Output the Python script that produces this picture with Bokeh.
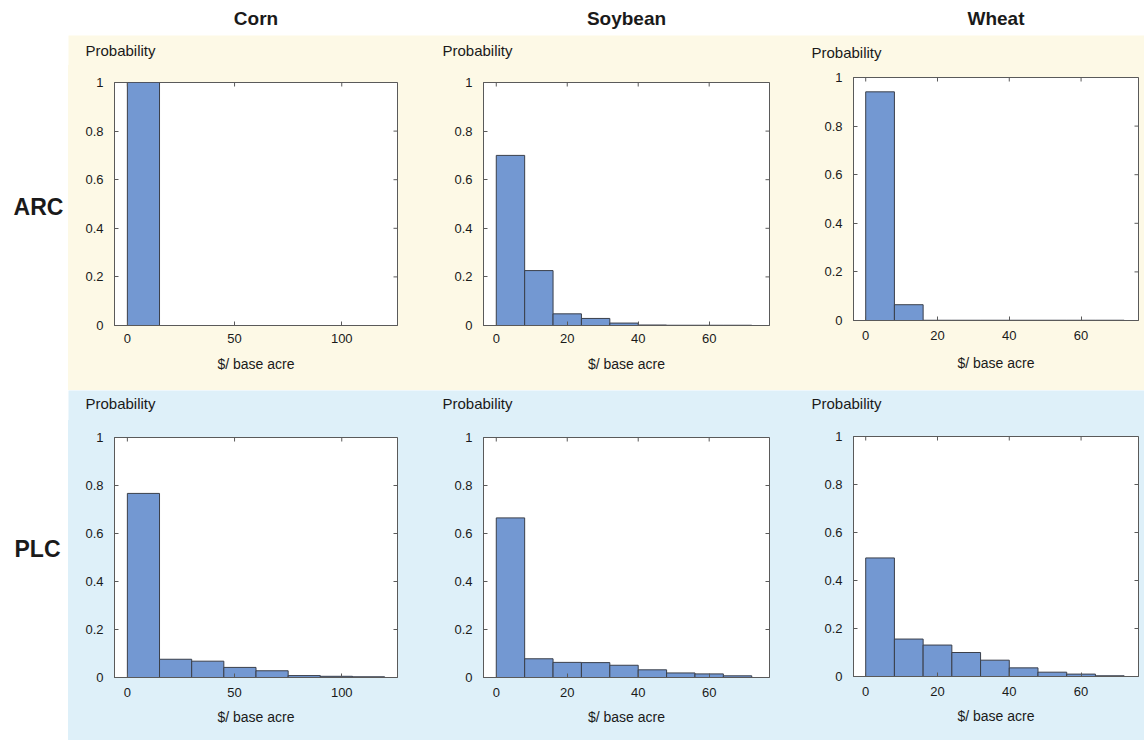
from bokeh.plotting import figure
from bokeh.layouts import row, column
from bokeh.models import Range1d, FixedTicker, ColumnDataSource
from bokeh.core.properties import value
from bokeh.embed import file_html
from bokeh.resources import INLINE

# ---------------- data ----------------
crops = ["Corn", "Soybean", "Wheat"]
programs = ["ARC", "PLC"]

corn_bin_edges = [0, 15, 30, 45, 60, 75, 90, 105, 120]
soy_bin_edges = [0, 8, 16, 24, 32, 40, 48, 56, 64, 72]
wheat_bin_edges = [0, 8, 16, 24, 32, 40, 48, 56, 64, 72]

corn_arc = [1.0, 0, 0, 0, 0, 0, 0, 0]
corn_plc = [0.767, 0.076, 0.068, 0.042, 0.028, 0.008, 0.005, 0.003]
soy_arc = [0.700, 0.226, 0.048, 0.029, 0.010, 0.002, 0.001, 0.001, 0.001]
soy_plc = [0.665, 0.078, 0.063, 0.062, 0.051, 0.032, 0.019, 0.015, 0.007]
wheat_arc = [0.941, 0.065, 0.001, 0.001, 0.001, 0.001, 0.001, 0.001, 0.001]
wheat_plc = [0.494, 0.156, 0.131, 0.100, 0.068, 0.036, 0.018, 0.010, 0.003]

corn_x_ticks = [0, 50, 100]
soy_x_ticks = [0, 20, 40, 60]
wheat_x_ticks = [0, 20, 40, 60]
y_ticks = [0, 0.2, 0.4, 0.6, 0.8, 1.0]
y_tick_labels = ["0", "0.2", "0.4", "0.6", "0.8", "1"]

y_title = "Probability"
x_title = "$/ base acre"

# ---------------- style ----------------
FONT = "Liberation Sans"
BAR = "#7398d2"
BAR_LINE = "#3a3f4a"
FRAME = "#5a5a5a"
YELLOW = "#fdf9e6"
BLUE = "#def0f9"
TXT = "#1a1a1a"


def panel(edges, probs, xr, xticks, w, h, bl, br, bt, bb, bg, xstand):
    p = figure(width=w, height=h, x_range=Range1d(*xr), y_range=Range1d(0, 1),
               output_backend="svg", toolbar_location=None,
               min_border_left=bl, min_border_right=br,
               min_border_top=bt, min_border_bottom=bb,
               border_fill_color=bg, background_fill_color="white",
               outline_line_color=FRAME, outline_line_width=1)
    src = ColumnDataSource(dict(left=edges[:-1], right=edges[1:], top=probs))
    p.quad(left="left", right="right", bottom=0, top="top", source=src,
           fill_color=BAR, line_color=BAR_LINE, line_width=1)
    p.grid.visible = False

    # inward tick marks on the top and right edges of the box
    p.scatter(x=xticks, y=[1] * len(xticks), marker="dash",
              angle=1.5708, size=8, line_color=FRAME, line_width=1)
    p.scatter(x=[xr[1]] * len(y_ticks), y=y_ticks, marker="dash",
              size=8, line_color=FRAME, line_width=1)

    xa = p.below[0]
    ya = p.left[0]
    xa.ticker = FixedTicker(ticks=xticks)
    ya.ticker = FixedTicker(ticks=y_ticks)
    ya.major_label_overrides = {t: l for t, l in zip(y_ticks, y_tick_labels)}
    for ax in (xa, ya):
        ax.axis_line_color = FRAME
        ax.major_tick_line_color = FRAME
        ax.major_tick_in = 4
        ax.major_tick_out = 0
        ax.minor_tick_line_color = None
        ax.major_label_text_font = FONT
        ax.major_label_text_font_size = "13px"
        ax.major_label_text_color = TXT
    ya.major_label_standoff = 11
    xa.major_label_standoff = xstand[0]
    xa.axis_label = x_title
    xa.axis_label_text_font = FONT
    xa.axis_label_text_font_size = "14px"
    xa.axis_label_text_font_style = "normal"
    xa.axis_label_text_color = TXT
    xa.axis_label_standoff = xstand[1]
    return p


def text_fig(texts, w, h, xs, ys, bg="white", size="23px", style="bold",
             align="center"):
    p = figure(width=w, height=h, x_range=Range1d(0, w), y_range=Range1d(0, h),
               output_backend="svg", toolbar_location=None,
               x_axis_type=None, y_axis_type=None, min_border=0,
               outline_line_color=None, border_fill_color=bg,
               background_fill_color=bg)
    p.grid.visible = False
    p.text(x=xs, y=ys, text=texts, text_font=value(FONT), text_font_style=style,
           text_font_size=size, text_align=align, text_baseline="middle",
           text_color=TXT)
    return p


# layout geometry (px)
LAB_W = 68
W = [352, 360, 364]
BL = [46, 63, 73]
BR = [23, 11, 6]
HEAD_H = 35
STRIP_H = 30
H_ARC, H_PLC = 355 - STRIP_H, 350 - STRIP_H
TITLE_DX = [-29, -41, -42]

frame_centers, frame_lefts = [], []
x0 = LAB_W
for w, bl, br in zip(W, BL, BR):
    frame_lefts.append(x0 + bl)
    frame_centers.append(x0 + bl + (w - bl - br) / 2)
    x0 += w

header = text_fig(crops, LAB_W + sum(W), HEAD_H, frame_centers,
                  [HEAD_H - 18] * 3, size="19px")

title_x = [fl - LAB_W + dx for fl, dx in zip(frame_lefts, TITLE_DX)]
arc_strip = text_fig([y_title] * 3, sum(W), STRIP_H, title_x, [15, 15, 13],
                     bg=YELLOW, size="15px", style="normal", align="left")
plc_strip = text_fig([y_title] * 3, sum(W), STRIP_H, title_x, [17, 17, 17],
                     bg=BLUE, size="15px", style="normal", align="left")

arc_panels = row(
    column(panel(corn_bin_edges, corn_arc, (-6, 126), corn_x_ticks, W[0], H_ARC,
                 BL[0], BR[0], 17, 65, YELLOW, (8, 10))),
    column(panel(soy_bin_edges, soy_arc, (-3.6, 77), soy_x_ticks, W[1], H_ARC,
                 BL[1], BR[1], 17, 65, YELLOW, (8, 10))),
    column(panel(wheat_bin_edges, wheat_arc, (-3.4, 76), wheat_x_ticks, W[2], H_ARC,
                 BL[2], BR[2], 12, 70, YELLOW, (10, 12))),
    spacing=0, styles={"background-color": YELLOW})

plc_panels = row(
    column(panel(corn_bin_edges, corn_plc, (-6, 126), corn_x_ticks, W[0], H_PLC,
                 BL[0], BR[0], 17, 63, BLUE, (10, 9))),
    column(panel(soy_bin_edges, soy_plc, (-3.6, 77), soy_x_ticks, W[1], H_PLC,
                 BL[1], BR[1], 17, 63, BLUE, (10, 9))),
    column(panel(wheat_bin_edges, wheat_plc, (-3.4, 76), wheat_x_ticks, W[2], H_PLC,
                 BL[2], BR[2], 16, 64, BLUE, (10, 9))),
    spacing=0, styles={"background-color": BLUE})

arc_row = row(text_fig([programs[0]], LAB_W, 355, [38], [184]),
              column(arc_strip, arc_panels, spacing=0), spacing=0)
plc_row = row(text_fig([programs[1]], LAB_W, 350, [37], [192]),
              column(plc_strip, plc_panels, spacing=0), spacing=0)

layout = column(header, arc_row, plc_row, spacing=0)

open("out.html", "w").write(file_html(layout, INLINE))
